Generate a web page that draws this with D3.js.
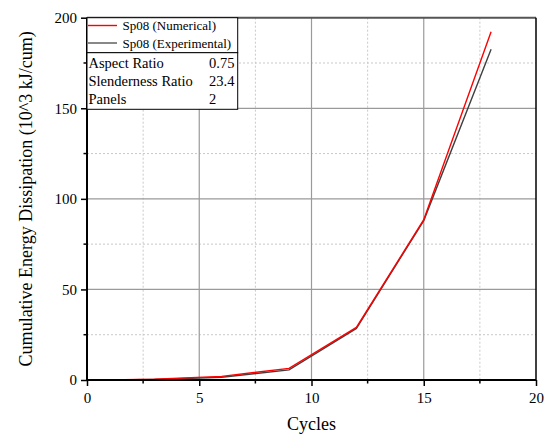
<!DOCTYPE html>
<html>
<head>
<meta charset="utf-8">
<script src="https://cdn.jsdelivr.net/npm/d3@7"></script>
<style>
  html, body { margin: 0; padding: 0; background: #fff; overflow: hidden; }
  svg { display: block; }
  svg text { font-family: "Liberation Serif", "Times New Roman", serif; fill: #000; }
</style>
</head>
<body>
<div id="chart"></div>
<script>
const cycles = [1, 3, 6, 9, 12, 15, 18];
const numerical = [0, 0.4, 2.0, 6.4, 29.0, 88.5, 192.3];
const experimental = [0, 0.3, 1.5, 5.6, 28.5, 88.0, 182.6];
const xTicks = [0, 5, 10, 15, 20];
const yTicks = [0, 50, 100, 150, 200];
const seriesNames = ["Sp08 (Numerical)", "Sp08 (Experimental)"];
const infoLabels = ["Aspect Ratio", "Slenderness Ratio", "Panels"];
const infoValues = ["0.75", "23.4", "2"];

const width = 553, height = 439;
const margin = { top: 17.7, right: 17, bottom: 59, left: 87 };
const innerWidth = width - margin.left - margin.right;
const innerHeight = height - margin.top - margin.bottom;
const serif = "'Liberation Serif', 'Times New Roman', serif";

const svg = d3.select("#chart").append("svg")
  .attr("width", width)
  .attr("height", height)
  .attr("font-family", serif);

const g = svg.append("g")
  .attr("transform", `translate(${margin.left},${margin.top})`);

const x = d3.scaleLinear().domain([0, 20]).range([0, innerWidth]);
const y = d3.scaleLinear().domain([0, 200]).range([innerHeight, 0]);

// minor grid (dotted)
const xMinor = xTicks.slice(0, -1).map(d => d + 2.5);
const yMinor = yTicks.slice(0, -1).map(d => d + 25);

g.selectAll(".xminor").data(xMinor).enter().append("line")
  .attr("x1", d => x(d)).attr("x2", d => x(d))
  .attr("y1", 0).attr("y2", innerHeight)
  .attr("stroke", "#c8c8c8").attr("stroke-dasharray", "2,2");
g.selectAll(".yminor").data(yMinor).enter().append("line")
  .attr("y1", d => y(d)).attr("y2", d => y(d))
  .attr("x1", 0).attr("x2", innerWidth)
  .attr("stroke", "#c8c8c8").attr("stroke-dasharray", "2,2");

// major grid
g.selectAll(".xmajor").data(xTicks.slice(1, -1)).enter().append("line")
  .attr("x1", d => x(d)).attr("x2", d => x(d))
  .attr("y1", 0).attr("y2", innerHeight)
  .attr("stroke", "#9a9a9a").attr("stroke-width", 1.2);
g.selectAll(".ymajor").data(yTicks.slice(1, -1)).enter().append("line")
  .attr("y1", d => y(d)).attr("y2", d => y(d))
  .attr("x1", 0).attr("x2", innerWidth)
  .attr("stroke", "#9a9a9a").attr("stroke-width", 1.2);

// frame top / right
g.append("line").attr("x1", 0).attr("x2", innerWidth).attr("y1", 0).attr("y2", 0)
  .attr("stroke", "#555").attr("stroke-width", 2);
g.append("line").attr("x1", innerWidth).attr("x2", innerWidth).attr("y1", 0).attr("y2", innerHeight)
  .attr("stroke", "#000").attr("stroke-width", 1.5);

// lines
const pts = vals => cycles.map((c, i) => [c, vals[i]]);
const line = d3.line().x(d => x(d[0])).y(d => y(d[1]));

g.append("path").datum(pts(experimental))
  .attr("fill", "none").attr("stroke", "#404040").attr("stroke-width", 1.4)
  .attr("d", line);
g.append("path").datum(pts(numerical))
  .attr("fill", "none").attr("stroke", "#ff0000").attr("stroke-width", 1.4)
  .attr("d", line);

// axes
const xAxis = g.append("g")
  .attr("transform", `translate(0,${innerHeight})`)
  .call(d3.axisBottom(x).tickValues(xTicks).tickSize(6).tickPadding(6));
xAxis.append("g").selectAll("line").data(xMinor).enter().append("line")
  .attr("x1", d => x(d)).attr("x2", d => x(d)).attr("y1", 0).attr("y2", 3.5)
  .attr("stroke", "#000").attr("stroke-width", 1.5);

const yAxis = g.append("g")
  .call(d3.axisLeft(y).tickValues(yTicks).tickSize(6).tickPadding(4));
yAxis.append("g").selectAll("line").data(yMinor).enter().append("line")
  .attr("y1", d => y(d)).attr("y2", d => y(d)).attr("x1", 0).attr("x2", -3.5)
  .attr("stroke", "#000").attr("stroke-width", 1.5);

[xAxis, yAxis].forEach(a => {
  a.attr("font-family", serif).attr("font-size", 15);
  a.select(".domain").attr("stroke", "#000").attr("stroke-width", 2);
  a.selectAll(".tick line").attr("stroke", "#000").attr("stroke-width", 1.5);
  a.selectAll(".tick text").attr("font-family", serif).attr("font-size", 15);
});
yAxis.select(".domain").attr("d", `M0,${innerHeight}V0`);
xAxis.select(".domain").attr("d", `M0,0H${innerWidth}`);

// axis titles
svg.append("text")
  .attr("x", margin.left + innerWidth / 2).attr("y", 430)
  .attr("text-anchor", "middle").attr("font-size", 18)
  .text("Cycles");
svg.append("text")
  .attr("transform", `translate(32,${margin.top + innerHeight / 2}) rotate(-90)`)
  .attr("text-anchor", "middle").attr("font-size", 18)
  .text("Cumulative Energy Dissipation (10^3 kJ/cum)");

// legend + info table
const lg = svg.append("g");
const boxX = margin.left, boxW = 150.7;
lg.append("rect").attr("x", boxX).attr("y", margin.top).attr("width", boxW).attr("height", 35)
  .attr("fill", "#fff").attr("stroke", "#000").attr("stroke-width", 1);
lg.append("rect").attr("x", boxX).attr("y", margin.top + 35).attr("width", boxW).attr("height", 56.6)
  .attr("fill", "#fff").attr("stroke", "#000").attr("stroke-width", 1);

const legendColors = ["#ff0000", "#555555"];
seriesNames.forEach((name, i) => {
  const yy = 25.5 + i * 17.5;
  lg.append("line").attr("x1", 88).attr("x2", 117).attr("y1", yy).attr("y2", yy)
    .attr("stroke", legendColors[i]).attr("stroke-width", 1.4);
  lg.append("text").attr("x", 122.5).attr("y", yy + 4.5)
    .attr("font-size", 13).text(name);
});

infoLabels.forEach((lab, i) => {
  const yy = 67.5 + i * 18.2;
  lg.append("text").attr("x", 88.5).attr("y", yy).attr("font-size", 14.5).text(lab);
  lg.append("text").attr("x", 209).attr("y", yy).attr("font-size", 14.5).text(infoValues[i]);
});
</script>
</body>
</html>
